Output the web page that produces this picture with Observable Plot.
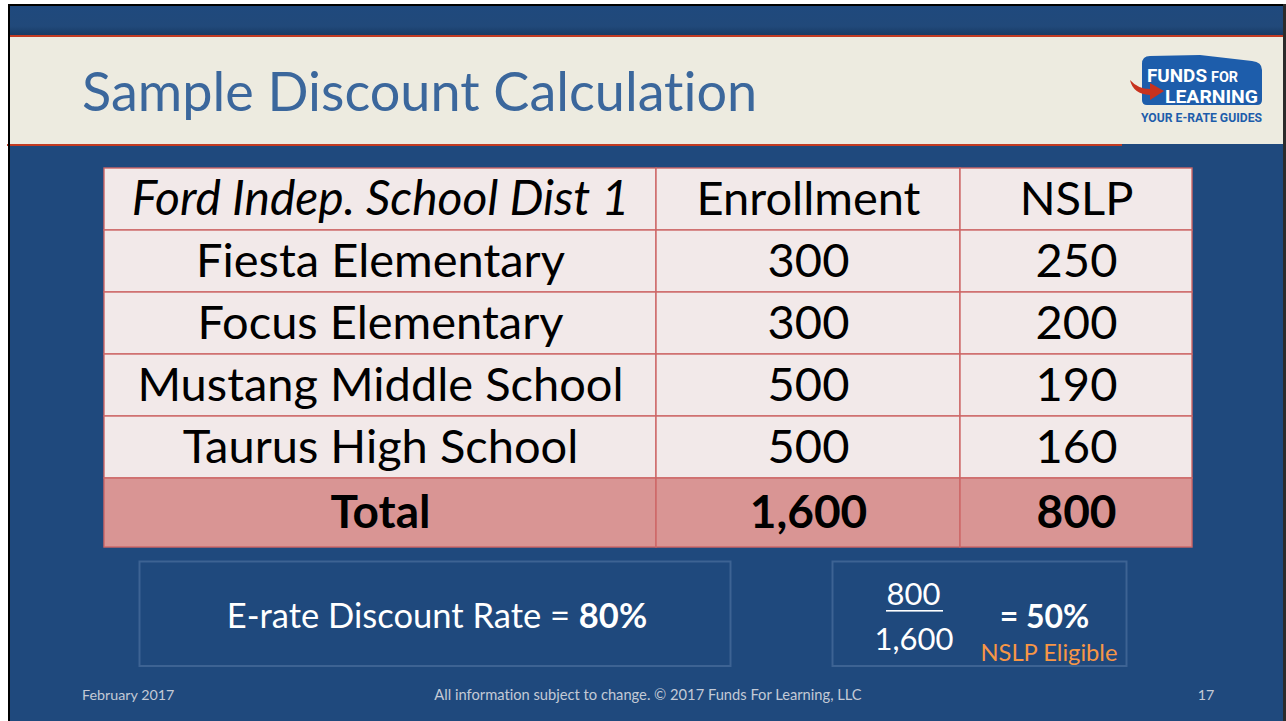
<!DOCTYPE html>
<html>
<head>
<meta charset="utf-8">
<script src="https://cdn.jsdelivr.net/npm/d3@7"></script>
<script src="https://cdn.jsdelivr.net/npm/@observablehq/plot@0.6"></script>
<style>
  html, body { margin: 0; padding: 0; background: #ffffff; }
  #page { position: relative; width: 1286px; height: 721px; overflow: hidden; background: #ffffff; font-family: Lato, "Open Sans", sans-serif; }
  #chrome { position: absolute; left: 0; top: 0; }
  #table { position: absolute; left: 104px; top: 168px; }
  text { font-variant-ligatures: none; font-feature-settings: "liga" 0, "clig" 0; }
</style>
</head>
<body>
<div id="page">
  <svg id="chrome" width="1286" height="721"></svg>
  <div id="table"></div>
</div>
<script>
// ---------- data ----------
const slideTitle = "Sample Discount Calculation";
const district = "Ford Indep. School Dist 1";
const columnHeads = ["Enrollment", "NSLP"];
const schools = ["Fiesta Elementary", "Focus Elementary", "Mustang Middle School", "Taurus High School"];
const enrollment = [300, 300, 500, 500];
const nslp = [250, 200, 190, 160];
const totalLabel = "Total";
const discountLabel = "E-rate Discount Rate = ";
const discountRate = 80;
const eligibleLabel = "NSLP Eligible";
const footerLeft = "February 2017";
const footerCenter = "All information subject to change. \u00A9 2017 Funds For Learning, LLC";
const pageNumber = "17";

// ---------- layout (not data) ----------
const colWidths = [552, 304, 232];
const rowHeights = [62, 62, 62, 62, 62, 69];
const tableW = d3.sum(colWidths), tableH = d3.sum(rowHeights);
const colEdges = [0, ...d3.cumsum(colWidths)];
const rowEdges = [0, ...d3.cumsum(rowHeights)];

const fmt = d3.format(",");
const totalEnroll = d3.sum(enrollment);
const totalNslp = d3.sum(nslp);
const pct = Math.round(100 * totalNslp / totalEnroll);

const rows = [
  {kind: "head", values: [district, ...columnHeads]},
  ...schools.map((s, i) => ({kind: "body", values: [s, fmt(enrollment[i]), fmt(nslp[i])]})),
  {kind: "total", values: [totalLabel, fmt(totalEnroll), fmt(totalNslp)]}
];
const cells = rows.flatMap((r, ri) => r.values.map((label, ci) => ({
  row: ri, col: ci, kind: r.kind, label,
  x1: colEdges[ci], x2: colEdges[ci + 1], y1: rowEdges[ri], y2: rowEdges[ri + 1],
  italic: r.kind === "head" && ci === 0
})));

const textOpts = {
  x: d => (d.x1 + d.x2) / 2,
  y: d => (d.y1 + d.y2) / 2,
  text: "label",
  fill: "#000000",
  fontSize: 47,
  fontFamily: "Lato",
  textAnchor: "middle",
  lineAnchor: "middle"
};

const chart = Plot.plot({
  width: tableW,
  height: tableH,
  margin: 0,
  style: {background: "transparent", overflow: "visible"},
  x: {domain: [0, tableW], range: [0, tableW], axis: null},
  y: {domain: [0, tableH], range: [0, tableH], axis: null},
  color: {domain: ["head", "body", "total"], range: ["#f2e9e9", "#f2e9e9", "#d99594"]},
  marks: [
    Plot.rect(cells, {x1: "x1", x2: "x2", y1: "y1", y2: "y2", fill: "kind", stroke: "#cd6666", strokeWidth: 1.4}),
    Plot.text(cells.filter(d => d.kind === "body" || (d.kind === "head" && !d.italic)), textOpts),
    Plot.text(cells.filter(d => d.italic), {...textOpts, fontSize: 48, fontStyle: "italic"}),
    Plot.text(cells.filter(d => d.kind === "total"), {...textOpts, fontSize: 46, fontWeight: "bold"})
  ]
});
document.getElementById("table").appendChild(chart);

// ---------- slide chrome ----------
const svg = d3.select("#chrome");
const blue = "#1f497d";
const red = "#c23b22";
svg.append("rect").attr("x", 10).attr("y", 6).attr("width", 1276).attr("height", 715).attr("fill", blue);
const g = svg.append("defs").append("linearGradient").attr("id", "topband").attr("x1", 0).attr("x2", 0).attr("y1", 0).attr("y2", 1);
g.append("stop").attr("offset", "0%").attr("stop-color", "#1f497d");
g.append("stop").attr("offset", "70%").attr("stop-color", "#21497a");
g.append("stop").attr("offset", "100%").attr("stop-color", "#183a63");
svg.append("rect").attr("x", 10).attr("y", 6).attr("width", 1276).attr("height", 29).attr("fill", "url(#topband)");
svg.append("rect").attr("x", 10).attr("y", 35).attr("width", 1276).attr("height", 2).attr("fill", red);
svg.append("rect").attr("x", 10).attr("y", 37).attr("width", 1276).attr("height", 107).attr("fill", "#edebe0");
svg.append("rect").attr("x", 7).attr("y", 144).attr("width", 1115).attr("height", 2).attr("fill", red);
svg.append("rect").attr("x", 8).attr("y", 4).attr("width", 2).attr("height", 717).attr("fill", "#000");
svg.append("rect").attr("x", 8).attr("y", 4).attr("width", 1276).attr("height", 2).attr("fill", "#000");
svg.append("rect").attr("x", 1283).attr("y", 4).attr("width", 3).attr("height", 717).attr("fill", "#2b2b2b");
// title
svg.append("text").attr("x", 82).attr("y", 111).attr("font-family", "Lato").attr("font-size", 54)
  .attr("fill", "#3b679c").text(slideTitle);

// logo
const logo = svg.append("g");
logo.append("path")
  .attr("d", "M1142,64 Q1142,56 1150,56 L1200,55 L1252,61 Q1262,62 1262,70 L1262,100 Q1262,105 1257,105 L1147,105 Q1142,105 1142,100 Z")
  .attr("fill", "#1d5dab");
logo.append("text").attr("x", 1147).attr("y", 82).attr("font-family", "Roboto").attr("font-weight", "bold")
  .attr("font-size", 19).attr("fill", "#fff").attr("textLength", 60).attr("lengthAdjust", "spacingAndGlyphs").text("FUNDS");
logo.append("text").attr("x", 1211).attr("y", 82).attr("font-family", "Roboto").attr("font-weight", "bold")
  .attr("font-size", 14).attr("fill", "#fff").attr("textLength", 27).attr("lengthAdjust", "spacingAndGlyphs").text("FOR");
logo.append("text").attr("x", 1165).attr("y", 103).attr("font-family", "Roboto").attr("font-weight", "bold")
  .attr("font-size", 19).attr("fill", "#fff").attr("textLength", 93).attr("lengthAdjust", "spacingAndGlyphs").text("LEARNING");
logo.append("path")
  .attr("d", "M1130,80 Q1133,94 1150,95 L1150,100 L1164,91 L1150,83 L1150,89 Q1138,89 1130,80 Z")
  .attr("fill", "#c8321e");
logo.append("text").attr("x", 1141).attr("y", 122).attr("font-family", "Roboto").attr("font-weight", "bold")
  .attr("font-size", 13).attr("fill", "#1d5dab").attr("textLength", 121).attr("lengthAdjust", "spacingAndGlyphs").text("YOUR E-RATE GUIDES");

// bottom boxes
const boxStroke = "#3d6393";
svg.append("rect").attr("x", 139.5).attr("y", 561.5).attr("width", 591).attr("height", 104.5)
  .attr("fill", "none").attr("stroke", boxStroke).attr("stroke-width", 2);
svg.append("rect").attr("x", 832.5).attr("y", 561.5).attr("width", 294).attr("height", 104.5)
  .attr("fill", "none").attr("stroke", boxStroke).attr("stroke-width", 2);

const t1 = svg.append("text").attr("x", 437).attr("y", 628).attr("text-anchor", "middle")
  .attr("font-family", "Lato").attr("font-size", 34.5).attr("fill", "#fff");
t1.append("tspan").text(discountLabel);
t1.append("tspan").attr("font-weight", "bold").text(discountRate + "%");

svg.append("text").attr("x", 913.5).attr("y", 605).attr("text-anchor", "middle")
  .attr("font-family", "Lato").attr("font-size", 31).attr("fill", "#fff").text(fmt(totalNslp));
svg.append("rect").attr("x", 886).attr("y", 610).attr("width", 57).attr("height", 1.6).attr("fill", "#fff");
svg.append("text").attr("x", 914).attr("y", 650).attr("text-anchor", "middle")
  .attr("font-family", "Lato").attr("font-size", 31).attr("fill", "#fff").text(fmt(totalEnroll));
svg.append("text").attr("x", 1044.5).attr("y", 628).attr("text-anchor", "middle")
  .attr("font-family", "Lato").attr("font-weight", "bold").attr("font-size", 32).attr("fill", "#fff").text("= " + pct + "%");
svg.append("text").attr("x", 1049).attr("y", 661).attr("text-anchor", "middle")
  .attr("font-family", "Lato").attr("font-size", 23.7).attr("fill", "#f79646").text(eligibleLabel);

// footer
const footFill = "#c3cad6";
svg.append("text").attr("x", 82).attr("y", 700).attr("font-family", "Lato").attr("font-size", 14.3).attr("fill", footFill).text(footerLeft);
svg.append("text").attr("x", 648).attr("y", 700).attr("text-anchor", "middle").attr("font-family", "Lato").attr("font-size", 14.7).attr("fill", footFill).text(footerCenter);
svg.append("text").attr("x", 1206).attr("y", 700).attr("text-anchor", "middle").attr("font-family", "Lato").attr("font-size", 14.3).attr("fill", footFill).text(pageNumber);
</script>
</body>
</html>
